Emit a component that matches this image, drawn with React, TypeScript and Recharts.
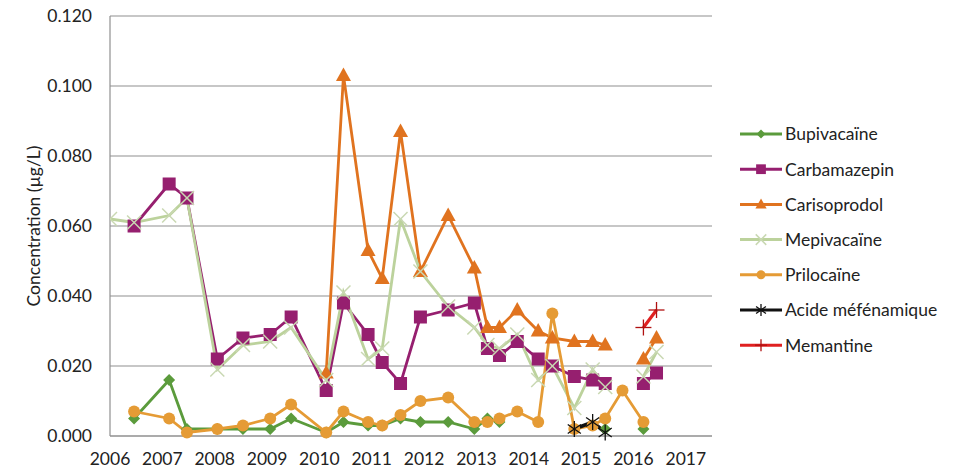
import React from 'react';
import { LineChart, Line, XAxis, YAxis, CartesianGrid } from 'recharts';

// sampling dates as decimal years
const dates = [
  2006.0, 2006.46, 2007.13, 2007.47, 2008.05, 2008.54, 2009.06, 2009.46, 2010.13, 2010.46,
  2010.93, 2011.2, 2011.55, 2011.93, 2012.46, 2012.96, 2013.21, 2013.44, 2013.78, 2014.18,
  2014.45, 2014.87, 2015.22, 2015.46, 2015.79, 2016.19, 2016.44,
];

const bupivacaine = [
  null, 0.005, 0.016, 0.002, 0.002, 0.002, 0.002, 0.005, 0.001, 0.004,
  0.003, 0.003, 0.005, 0.004, 0.004, 0.002, 0.005, 0.004, null, null,
  null, null, null, 0.002, null, 0.002, null,
];
const carbamazepin = [
  null, 0.060, 0.072, 0.068, 0.022, 0.028, 0.029, 0.034, 0.013, 0.038,
  0.029, 0.021, 0.015, 0.034, 0.036, 0.038, 0.025, 0.023, 0.027, 0.022,
  0.020, 0.017, 0.016, 0.015, null, 0.015, 0.018,
];
const carisoprodol = [
  null, null, null, null, null, null, null, null, 0.018, 0.103,
  0.053, 0.045, 0.087, 0.047, 0.063, 0.048, 0.031, 0.031, 0.036, 0.030,
  0.028, 0.027, 0.027, 0.026, null, 0.022, 0.028,
];
const mepivacaine = [
  0.062, 0.061, 0.063, 0.068, 0.019, 0.026, 0.027, 0.031, 0.016, 0.041,
  0.022, 0.025, 0.062, 0.047, 0.037, 0.031, 0.026, 0.025, 0.029, 0.016,
  0.020, 0.008, 0.019, 0.014, null, 0.017, 0.024,
];
const prilocaine = [
  null, 0.007, 0.005, 0.001, 0.002, 0.003, 0.005, 0.009, 0.001, 0.007,
  0.004, 0.003, 0.006, 0.010, 0.011, 0.004, 0.004, 0.005, 0.007, 0.004,
  0.035, 0.002, 0.003, 0.005, 0.013, 0.004, null,
];
const acideMefenamique = [
  null, null, null, null, null, null, null, null, null, null,
  null, null, null, null, null, null, null, null, null, null,
  null, 0.002, 0.004, 0.001, null, null, null,
];
const memantine = [
  null, null, null, null, null, null, null, null, null, null,
  null, null, null, null, null, null, null, null, null, null,
  null, null, null, null, null, 0.031, 0.036,
];

const yTicks = [0, 0.02, 0.04, 0.06, 0.08, 0.1, 0.12];
const xTicks = [2006, 2007, 2008, 2009, 2010, 2011, 2012, 2013, 2014, 2015, 2016, 2017];

const series = [
  { key: 'bupi', name: 'Bupivacaïne', values: bupivacaine, color: '#5b9b3c', marker: 'diamond', width: 2.8 },
  { key: 'carba', name: 'Carbamazepin', values: carbamazepin, color: '#961f6f', marker: 'square', width: 2.8 },
  { key: 'cariso', name: 'Carisoprodol', values: carisoprodol, color: '#e0731f', marker: 'triangle', width: 2.8 },
  { key: 'mepi', name: 'Mepivacaïne', values: mepivacaine, color: '#bcd29c', marker: 'cross', width: 2.8 },
  { key: 'prilo', name: 'Prilocaïne', values: prilocaine, color: '#e59b35', marker: 'circle', width: 2.8 },
  { key: 'acide', name: 'Acide méfénamique', values: acideMefenamique, color: '#111111', marker: 'star', width: 3.6 },
  { key: 'meman', name: 'Memantine', values: memantine, color: '#e02020', marker: 'plus', width: 3.2 },
];

const data = dates.map((d, i) => {
  const row: Record<string, number | null> = { date: d };
  series.forEach((s) => {
    row[s.key] = s.values[i];
  });
  return row;
});

const FONT = 'Lato, "Open Sans", sans-serif';

function Marker({ type, cx, cy, color, k = 1 }: { type: string; cx: number; cy: number; color: string; k?: number }) {
  switch (type) {
    case 'diamond': {
      const r = 6 * k;
      return <polygon points={`${cx},${cy - r} ${cx + r},${cy} ${cx},${cy + r} ${cx - r},${cy}`} fill={color} />;
    }
    case 'square': {
      const r = 6.5 * k;
      return <rect x={cx - r} y={cy - r} width={2 * r} height={2 * r} fill={color} />;
    }
    case 'triangle': {
      const w = 7.5 * k;
      return <polygon points={`${cx},${cy - 8 * k} ${cx + w},${cy + 5.5 * k} ${cx - w},${cy + 5.5 * k}`} fill={color} />;
    }
    case 'circle':
      return <circle cx={cx} cy={cy} r={6 * k} fill={color} />;
    case 'cross': {
      const r = 7 * k;
      return (
        <g stroke="#c9d8b2" strokeWidth={1.5}>
          <line x1={cx - r} y1={cy - r} x2={cx + r} y2={cy + r} />
          <line x1={cx - r} y1={cy + r} x2={cx + r} y2={cy - r} />
        </g>
      );
    }
    case 'star': {
      const r = 8 * k;
      const angles = [90, 35, 145];
      return (
        <g stroke="#111" strokeWidth={1.3}>
          {angles.map((a) => {
            const dx = r * Math.cos((a * Math.PI) / 180);
            const dy = r * Math.sin((a * Math.PI) / 180);
            return <line key={a} x1={cx - dx} y1={cy - dy} x2={cx + dx} y2={cy + dy} />;
          })}
        </g>
      );
    }
    case 'plus': {
      const r = 8 * k;
      return (
        <g stroke="#b01010" strokeWidth={1.3}>
          <line x1={cx - r} y1={cy} x2={cx + r} y2={cy} />
          <line x1={cx} y1={cy - r} x2={cx} y2={cy + r} />
        </g>
      );
    }
    default:
      return null;
  }
}

const dotFor = (s: (typeof series)[number]) => (props: any) => {
  const { cx, cy, index, value } = props;
  if (value == null || cx == null || cy == null || Number.isNaN(cy)) return <g key={`${s.key}-${index}`} />;
  return (
    <g key={`${s.key}-${index}`}>
      <Marker type={s.marker} cx={cx} cy={cy} color={s.color} />
    </g>
  );
};

const YTick = (props: any) => {
  const { x, y, payload } = props;
  return (
    <text x={x} y={y} dy="0.36em" textAnchor="end" fill="#222" fontSize={17.5} fontFamily={FONT}>
      {payload.value.toFixed(3)}
    </text>
  );
};

const XTick = (props: any) => {
  const { x, y, payload } = props;
  return (
    <text x={x} y={y} dy="0.71em" textAnchor="middle" fill="#222" fontSize={17.5} fontFamily={FONT}>
      {payload.value}
    </text>
  );
};

function Legend() {
  return (
    <svg width={230} height={280} style={{ position: 'absolute', left: 734, top: 110 }}>
      {series.map((s, i) => {
        const y = 24 + i * 35.2;
        return (
          <g key={s.key}>
            <line x1={6} y1={y} x2={48} y2={y} stroke={s.color} strokeWidth={3} />
            <Marker type={s.marker} cx={27} cy={y} color={s.color} k={0.75} />
            <text x={51} y={y} dy="0.36em" fontSize={17.5} fontFamily={FONT} fill="#222">
              {s.name}
            </text>
          </g>
        );
      })}
    </svg>
  );
}

export default function App() {
  return (
    <div style={{ position: 'absolute', left: 0, top: 0, width: 964, height: 472, background: '#fff', fontFamily: FONT }}>
      <LineChart width={964} height={472} data={data} margin={{ top: 16, right: 252, bottom: 0, left: 0 }}>
        <CartesianGrid horizontal vertical={false} stroke="#8f8f8f" strokeWidth={1.2} />
        <XAxis
          dataKey="date"
          type="number"
          domain={[2006, 2017.5]}
          ticks={xTicks}
          allowDataOverflow
          height={36}
          tickLine={false}
          tickSize={0}
          tickMargin={17}
          axisLine={{ stroke: '#8f8f8f', strokeWidth: 1.2 }}
          tick={<XTick />}
          interval={0}
        />
        <YAxis
          type="number"
          domain={[0, 0.12]}
          ticks={yTicks}
          width={110}
          tickLine={false}
          tickSize={0}
          tickMargin={18}
          axisLine={{ stroke: '#8f8f8f', strokeWidth: 1.2 }}
          tick={<YTick />}
          interval={0}
        />
        {series.map((s) => (
          <Line
            key={s.key}
            dataKey={s.key}
            name={s.name}
            stroke={s.color}
            strokeWidth={s.width}
            dot={dotFor(s)}
            activeDot={false}
            connectNulls={false}
            isAnimationActive={false}
          />
        ))}
      </LineChart>
      <div
        style={{
          position: 'absolute',
          left: 33,
          top: 226,
          transform: 'translate(-50%, -50%) rotate(-90deg)',
          whiteSpace: 'nowrap',
          fontSize: 17.5,
          color: '#222',
        }}
      >
        Concentration (µg/L)
      </div>
      <Legend />
    </div>
  );
}
